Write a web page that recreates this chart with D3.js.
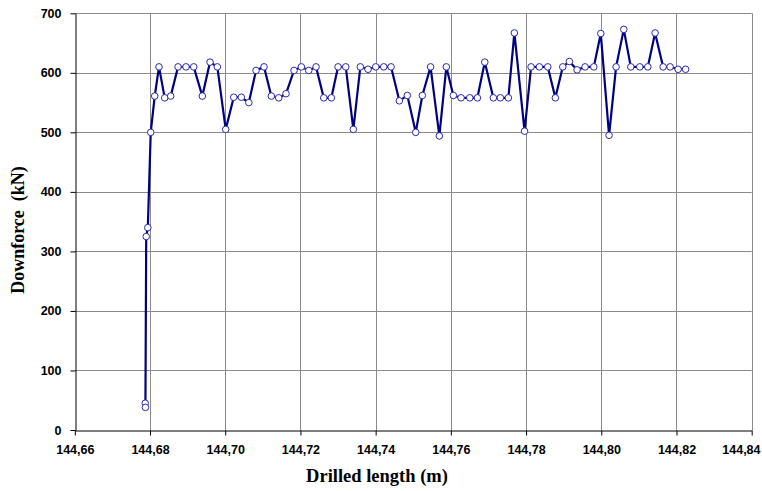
<!DOCTYPE html>
<html>
<head>
<meta charset="utf-8">
<script src="https://cdn.jsdelivr.net/npm/d3@7"></script>
<style>
  html, body { margin: 0; padding: 0; background: #fff; }
  svg { display: block; }
</style>
</head>
<body>
<svg id="chart" width="762" height="491"></svg>
<script>
// ---- data ----
const drilledLength = [
  144.67872, 144.67878, 144.67899, 144.67942, 144.68019, 144.68125, 144.68239, 144.68391,
  144.68551, 144.68745, 144.68957, 144.69162, 144.69391, 144.69596, 144.69790, 144.70013,
  144.70226, 144.70428, 144.70628, 144.70819, 144.71032, 144.71226, 144.71423, 144.71617,
  144.71830, 144.72024, 144.72221, 144.72415, 144.72620, 144.72822, 144.73000, 144.73205,
  144.73407, 144.73593, 144.73798, 144.74003, 144.74215, 144.74410, 144.74630, 144.74843,
  144.75066, 144.75242, 144.75460, 144.75694, 144.75880, 144.76066, 144.76271, 144.76503,
  144.76705, 144.76902, 144.77130, 144.77316, 144.77529, 144.77689, 144.77960, 144.78133,
  144.78354, 144.78577, 144.78779, 144.78976, 144.79152, 144.79356, 144.79569, 144.79801,
  144.79987, 144.80207, 144.80394, 144.80598, 144.80785, 144.81024, 144.81237, 144.81431,
  144.81644, 144.81830, 144.82043, 144.82242
];
const downforce = [
  45, 38, 325, 340, 500, 561, 610, 558,
  561, 610, 610, 610, 561, 618, 610, 505,
  559, 559, 550, 604, 610, 561, 558, 565,
  604, 610, 604, 610, 558, 558, 610, 610,
  505, 610, 606, 610, 610, 610, 553, 562,
  500, 562, 610, 494, 610, 562, 558, 558,
  558, 618, 558, 558, 558, 667, 502, 610,
  610, 610, 558, 610, 619, 605, 610, 610,
  666, 495, 610, 673, 610, 610, 610, 667,
  610, 610, 606, 606
];
const xTicks = [144.66, 144.68, 144.70, 144.72, 144.74, 144.76, 144.78, 144.80, 144.82, 144.84];
const yTicks = [0, 100, 200, 300, 400, 500, 600, 700];
const xTitle = "Drilled length (m)";
const yTitle = "Downforce  (kN)";

// ---- layout ----
const svg = d3.select("#chart");
const W = 762, H = 491;
const margin = { left: 74.8, right: W - 751.7, top: 13.3, bottom: H - 430 };
const x = d3.scaleLinear().domain([144.66, 144.84]).range([margin.left, W - margin.right]);
const y = d3.scaleLinear().domain([0, 700]).range([H - margin.bottom, margin.top]);

const fmt = v => d3.format(".2f")(v).replace(".", ",");

// gridlines
const grid = svg.append("g");
grid.selectAll("line.v").data(xTicks.slice(1)).join("line")
  .attr("x1", d => Math.round(x(d)) + 0.5).attr("x2", d => Math.round(x(d)) + 0.5)
  .attr("y1", y(700)).attr("y2", y(0))
  .attr("stroke", "#8a8a8a").attr("stroke-width", 1);
grid.selectAll("line.h").data(yTicks.slice(1)).join("line")
  .attr("y1", d => Math.round(y(d)) + 0.5).attr("y2", d => Math.round(y(d)) + 0.5)
  .attr("x1", x(144.66)).attr("x2", x(144.84))
  .attr("stroke", "#8a8a8a").attr("stroke-width", 1);

// axes
const xAxis = d3.axisBottom(x).tickValues(xTicks).tickFormat(fmt).tickSizeInner(5).tickSizeOuter(0).tickPadding(10);
const yAxis = d3.axisLeft(y).tickValues(yTicks).tickFormat(d3.format("d")).tickSizeInner(5).tickSizeOuter(0).tickPadding(9);

const gx = svg.append("g").attr("transform", `translate(0,${Math.round(y(0)) + 0.5})`).call(xAxis);
const gy = svg.append("g").attr("transform", `translate(${Math.round(x(144.66)) + 0.5},0)`).call(yAxis);
[gx, gy].forEach(g => {
  g.select(".domain").attr("stroke", "#000").attr("stroke-width", 1);
  g.selectAll(".tick line").attr("stroke", "#000");
  g.selectAll(".tick text").attr("font-family", "Liberation Sans, Arial, sans-serif")
    .attr("font-size", 12.5).attr("font-weight", "bold").attr("fill", "#000");
});
// keep the last x label inside the page (as the reference does)
gx.selectAll(".tick text").filter(d => d === xTicks[xTicks.length - 1])
  .attr("text-anchor", "end").attr("x", W - 2 - x(xTicks[xTicks.length - 1]));

// line + markers
const pts = drilledLength.map((d, i) => [d, downforce[i]]);
const line = d3.line().x(d => x(d[0])).y(d => y(d[1]));
svg.append("path").datum(pts).attr("d", line)
  .attr("fill", "none").attr("stroke", "#000080").attr("stroke-width", 2.2)
  .attr("stroke-linejoin", "miter");
svg.append("g").selectAll("circle").data(pts).join("circle")
  .attr("cx", d => x(d[0])).attr("cy", d => y(d[1])).attr("r", 3.3)
  .attr("fill", "#fff").attr("stroke", "#2a2ab0").attr("stroke-width", 1);

// titles
svg.append("text").attr("x", 377).attr("y", 482).attr("text-anchor", "middle")
  .attr("font-family", "Liberation Serif, Times New Roman, serif").attr("font-weight", "bold")
  .attr("font-size", 18.5).attr("fill", "#000").text(xTitle);
svg.append("text").attr("transform", "translate(24,230) rotate(-90)").attr("text-anchor", "middle")
  .attr("font-family", "Liberation Serif, Times New Roman, serif").attr("font-weight", "bold")
  .attr("font-size", 18).attr("fill", "#000").style("white-space", "pre").text(yTitle);
</script>
</body>
</html>
